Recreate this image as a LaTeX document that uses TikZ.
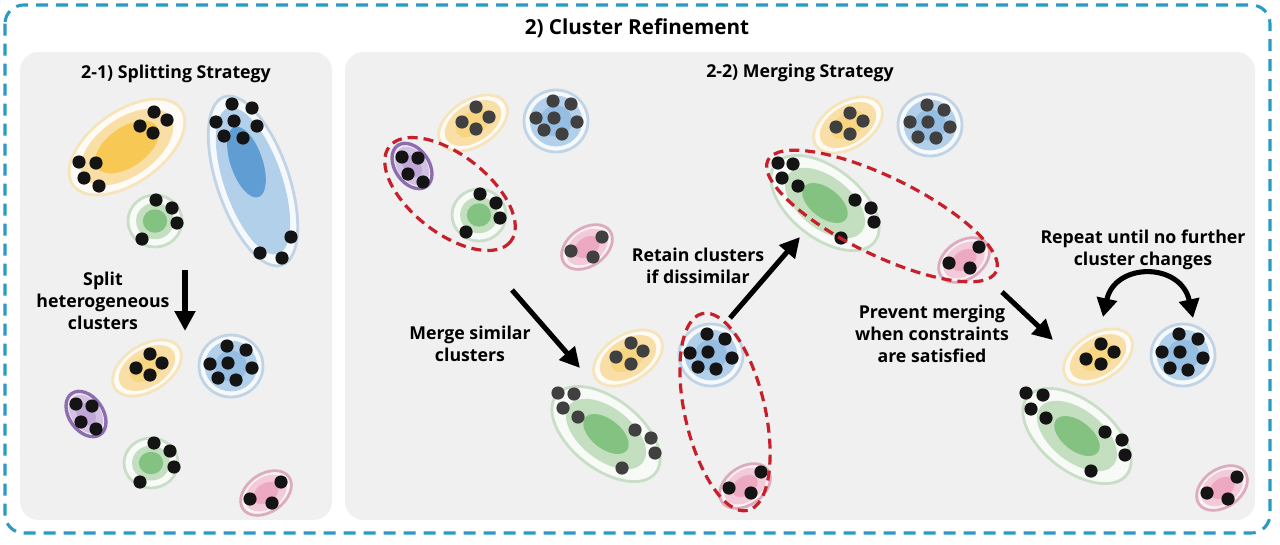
\documentclass[tikz,border=0pt]{standalone}
\usepackage{fontspec}
\setmainfont{Open Sans}
\usetikzlibrary{arrows.meta}
\definecolor{tealc}{HTML}{2B9AC2}
\definecolor{panelc}{HTML}{F0F0F0}
\definecolor{redc}{HTML}{C8202A}
\definecolor{dk}{HTML}{141414}
\definecolor{gy}{HTML}{404040}
\definecolor{ycO}{HTML}{F6E4BC}\definecolor{ycM}{HTML}{F9DFA6}\definecolor{ycC}{HTML}{F7C954}
\definecolor{bcO}{HTML}{C0D4E6}\definecolor{bcM}{HTML}{B3D0EB}\definecolor{bcC}{HTML}{5F9DD3}
\definecolor{gcO}{HTML}{C9DEC7}\definecolor{gcM}{HTML}{C3DFBF}\definecolor{gcC}{HTML}{84C282}
\definecolor{pcO}{HTML}{8E6CB0}\definecolor{pcM}{HTML}{D2C1E3}\definecolor{pcC}{HTML}{B497D2}
\definecolor{kcO}{HTML}{DCABBE}\definecolor{kcM}{HTML}{F2CAD9}\definecolor{kcC}{HTML}{EC9BB8}
\tikzset{
  ycw/.style={line width=2.1pt}, bcw/.style={line width=2.1pt}, gcw/.style={line width=2.1pt},
  pcw/.style={line width=2.5pt}, kcw/.style={line width=2.1pt}}
% #1 x, #2 y, #3 angle, #4 a, #5 b, #6 colour prefix, #7 mid scale, #8 core scale, #9 core opacity
\newcommand{\mycluster}[9]{%
  \begin{scope}[shift={(#1,#2)},rotate=#3]
    \filldraw[fill=#6O!14!white, draw=#6O, #6w] (0,0) ellipse [x radius=#4, y radius=#5];
    \fill[#6M] (0,0) ellipse [x radius=#7*#4, y radius=#7*#5];
    \fill[#6C, fill opacity=#9] (0,0) ellipse [x radius=#8*#4, y radius=#8*#5];
  \end{scope}}
\newcommand{\mydots}[2]{\foreach \px/\py in {#2} \fill[#1] (\px,\py) circle [radius=6.6];}
\begin{document}
\begin{tikzpicture}[x=0.75pt,y=-0.75pt,
  lbl/.style={font=\fontsize{13.3}{16.5}\selectfont\bfseries, align=center, inner sep=0},
  ttl/.style={font=\fontsize{15.5}{18}\selectfont\bfseries, inner sep=0},
  bigarrow/.style={line width=3.8pt, -{Triangle[length=15pt,width=15pt]}},
  redd/.style={draw=redc, line width=2.4pt, dash pattern=on 7.5pt off 4.5pt},
  panel/.style={fill=panelc, rounded corners=14pt}]
\useasboundingbox (0,0) rectangle (1280,544);
\fill[white] (0,0) rectangle (1280,544);
\draw[draw=tealc, line width=2.3pt, dash pattern=on 9pt off 6pt, rounded corners=14pt] (5,5) rectangle (1270,533);
\fill[panel] (20,52) rectangle (332,520);
\fill[panel] (345,52) rectangle (1255,520);

\node[ttl] (title) at (637,28) {2) Cluster Refinement};
\node[ttl, font=\fontsize{13.3}{16}\selectfont\bfseries] (t21) at (176,74) {2-1) Splitting Strategy};
\node[ttl, font=\fontsize{13.3}{16}\selectfont\bfseries] (t22) at (800,73) {2-2) Merging Strategy};

% ---------- left panel: before split
\mycluster{127}{147}{35}{66}{36}{yc}{0.8}{0.55}{1}
\mydots{dk}{154/112,167/120,140/126,153/133,79/162,96/163,84/178,99/186}
\begin{scope}[shift={(253,181)},rotate=-71]
  \filldraw[fill=bcO!14!white, draw=bcO, bcw] (0,0) ellipse [x radius=89, y radius=36];
  \fill[bcM] (0,0) ellipse [x radius=77, y radius=29];
  \fill[bcC] (-20,0) ellipse [x radius=37, y radius=16];
\end{scope}
\mydots{dk}{232/104,252/108,216/122,234/121,257/126,224/136,243/138,291/237,260/253,282/258}
\mycluster{155}{221}{0}{27}{26}{gc}{0.7}{0.45}{1}
\mydots{dk}{156/200,172/208,177/223,142/239}

\node[lbl] (lsplit) at (103,301) {Split\\heterogeneous\\clusters};
\coordinate (s1) at (185,270);
\coordinate (s2) at (185,331);
\draw[bigarrow] (s1) -- (s2);

% ---------- left panel: after split
\mycluster{147}{368}{32}{38}{23}{yc}{0.82}{0.5}{0.45}
\mydots{dk}{150/354,162/363,136/368,150/375}
\mycluster{231}{366}{0}{32}{31}{bc}{0.82}{0.5}{0.35}
\mydots{dk}{227/346,246/350,210/364,228/363,252/368,218/378,236/380}
\mycluster{86}{414}{-55}{25}{17}{pc}{0.85}{0.5}{0.6}
\mydots{dk}{76/404,92/406,81/422,96/429}
\mycluster{151}{463}{0}{27}{25}{gc}{0.7}{0.45}{1}
\mydots{dk}{154/443,170/451,174/467,140/482}
\mycluster{266}{493}{35}{28}{19}{kc}{0.82}{0.5}{0.7}
\mydots{dk}{281/482,250/499,272/503}

% ---------- merging: state 1
\mycluster{473}{123}{32}{38}{23}{yc}{0.82}{0.5}{0.45}
\mydots{gy}{476/107,489/117,462/122,476/129}
\mycluster{556}{121}{0}{32}{31}{bc}{0.82}{0.5}{0.35}
\mydots{gy}{553/101,571/104,536/118,554/118,577/122,544/130,562/134}
\mycluster{412}{166}{-55}{25}{17}{pc}{0.85}{0.5}{0.6}
\mydots{dk}{402/157,418/158,408/174,423/182}
\mycluster{479}{215}{0}{27}{26}{gc}{0.7}{0.45}{1}
\mydots{dk}{480/194,496/203,500/218,466/232}
\mycluster{587}{247}{35}{28}{19}{kc}{0.82}{0.5}{0.7}
\mydots{gy}{602/237,571/251,593/257}
\draw[redd, rotate around={-38:(450,194)}] (450,194) ellipse [x radius=77, y radius=39];

\node[lbl] (lmerge) at (470,344) {Merge similar\\clusters};
\coordinate (m1) at (512,290);
\coordinate (m2) at (580,368);
\draw[bigarrow] (m1) -- (m2);

% ---------- merging: state 2
\mycluster{628}{358}{32}{38}{23}{yc}{0.82}{0.5}{0.45}
\mydots{gy}{631/343,643/351,616/357,631/364}
\mycluster{606}{434}{-38}{63}{35}{gc}{0.74}{0.42}{1}
\mydots{gy}{558/393,574/394,563/408,578/417,635/430,651/438,655/453,622/468}
\mycluster{711}{355}{0}{32}{31}{bc}{0.82}{0.5}{0.35}
\mydots{dk}{707/334,725/339,690/353,708/352,732/358,698/367,716/369}
\mycluster{745}{486}{35}{28}{19}{kc}{0.82}{0.5}{0.7}
\mydots{dk}{761/472,729/488,751/493}
\draw[redd, rotate around={-77:(725,412)}] (725,412) ellipse [x radius=101, y radius=40];

\node[lbl] (lretain) at (698,266) {Retain clusters\\if dissimilar};
\coordinate (r1) at (730,318);
\coordinate (r2) at (800,237);
\draw[bigarrow] (r1) -- (r2);

% ---------- merging: state 3
\mycluster{848}{125}{32}{38}{23}{yc}{0.82}{0.5}{0.45}
\mydots{gy}{850/113,863/121,836/127,850/134}
\mycluster{930}{125}{0}{32}{31}{bc}{0.82}{0.5}{0.35}
\mydots{gy}{927/105,944/110,910/122,928/122,950/127,918/137,936/138}
\mycluster{825}{203}{-38}{63}{35}{gc}{0.74}{0.42}{1}
\mydots{dk}{778/163,793/164,782/178,798/186,855/200,871/208,874/222,841/238}
\mycluster{964}{260}{35}{28}{19}{kc}{0.82}{0.5}{0.7}
\mydots{dk}{979/247,949/263,970/268}
\draw[redd, rotate around={-26:(882,216)}] (882,216) ellipse [x radius=127, y radius=39];

\node[lbl] (lprevent) at (932,334) {Prevent merging\\when constraints\\are satisfied};
\coordinate (p1) at (1002,292);
\coordinate (p2) at (1053,340);
\draw[bigarrow] (p1) -- (p2);

% ---------- final state
\mycluster{1098}{357}{32}{38}{23}{yc}{0.82}{0.5}{0.45}
\mydots{dk}{1101/344,1114/352,1086/359,1101/364}
\mycluster{1183}{355}{0}{32}{31}{bc}{0.82}{0.5}{0.35}
\mydots{dk}{1179/334,1198/339,1162/352,1180/352,1203/358,1170/368,1188/370}
\mycluster{1077}{436}{-38}{63}{35}{gc}{0.74}{0.42}{1}
\mydots{dk}{1026/393,1043/395,1031/409,1046/418,1105/432,1122/440,1125/455,1091/471}
\mycluster{1222}{488}{35}{28}{19}{kc}{0.82}{0.5}{0.7}
\mydots{dk}{1237/477,1207/493,1228/499}

\node[lbl] (lrepeat) at (1143,250) {Repeat until no further\\cluster changes};
\coordinate (q1) at (1103,317);
\coordinate (q2) at (1193,318);
\draw[line width=3.8pt, {Triangle[length=14pt,width=15pt]}-{Triangle[length=14pt,width=15pt]}]
  (q1) .. controls (1115,262) and (1181,262) .. (q2);
\end{tikzpicture}
\end{document}
